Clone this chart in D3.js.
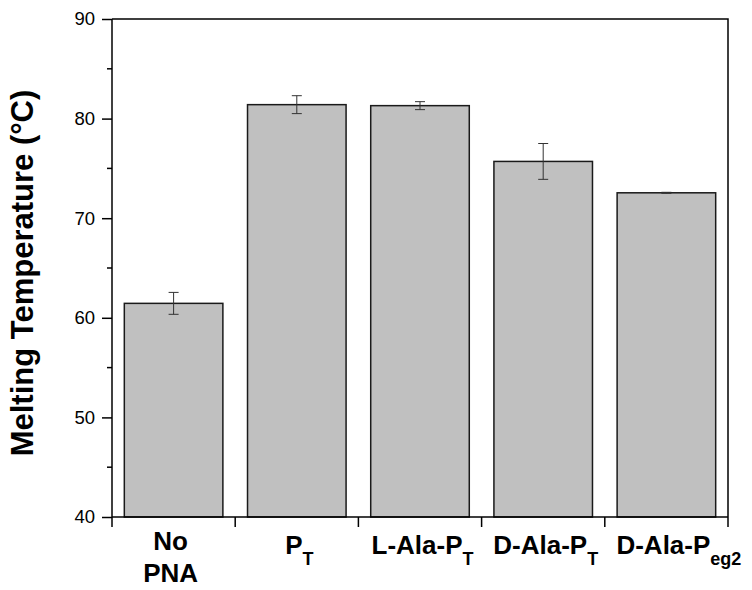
<!DOCTYPE html>
<html>
<head>
<script src="https://d3js.org/d3.v7.min.js"></script>
<style>
  body { margin: 0; background: #fff; }
  text { font-family: "Liberation Sans", Arial, sans-serif; }
</style>
</head>
<body>
<svg id="chart" width="752" height="590"></svg>
<script>
// labels: [main, subscript]
var categories = [["No PNA", ""], ["P", "T"], ["L-Ala-P", "T"], ["D-Ala-P", "T"], ["D-Ala-P", "eg2"]];
var meltTemp = [61.45, 81.4, 81.3, 75.7, 72.55];
var errors = [1.1, 0.9, 0.4, 1.8, 0.05];
var yTicks = [40, 50, 60, 70, 80, 90];

var svg = d3.select('#chart');
var mLeft = 112, mRight = 728, mTop = 19, mBottom = 517;

var x = d3.scaleBand().domain(d3.range(categories.length)).range([mLeft, mRight]).paddingInner(0.2).paddingOuter(0.1);
var y = d3.scaleLinear().domain([40, 90]).range([mBottom, mTop]);

// bars
svg.selectAll('rect.bar').data(meltTemp).enter().append('rect')
    .attr('class', 'bar')
    .attr('x', function(d, i) { return x(i); })
    .attr('width', x.bandwidth())
    .attr('y', function(d) { return y(d); })
    .attr('height', function(d) { return mBottom - y(d); })
    .attr('fill', '#c0c0c0')
    .attr('stroke', '#1a1a1a')
    .attr('stroke-width', 1.5);

// error bars
var eb = svg.selectAll('g.err').data(meltTemp).enter().append('g').attr('class', 'err')
    .attr('stroke', '#333').attr('stroke-width', 1);
eb.append('line')
    .attr('x1', function(d, i) { return x(i) + x.bandwidth() / 2; })
    .attr('x2', function(d, i) { return x(i) + x.bandwidth() / 2; })
    .attr('y1', function(d, i) { return y(d + errors[i]); })
    .attr('y2', function(d, i) { return y(d - errors[i]); });
[1, -1].forEach(function(s) {
    eb.append('line')
        .attr('x1', function(d, i) { return x(i) + x.bandwidth() / 2 - 5; })
        .attr('x2', function(d, i) { return x(i) + x.bandwidth() / 2 + 5; })
        .attr('y1', function(d, i) { return y(d + s * errors[i]); })
        .attr('y2', function(d, i) { return y(d + s * errors[i]); });
});

// y axis with minor ticks
var yAxis = d3.axisLeft(y).tickValues(yTicks).tickSize(10).tickPadding(7).tickFormat(d3.format('d'));
var gy = svg.append('g').attr('transform', 'translate(' + mLeft + ',0)').call(yAxis);
gy.selectAll('.tick line').attr('stroke-width', 1.5);
gy.selectAll('text').style('font-size', '18.5px').attr('fill', '#000');
gy.select('.domain').attr('stroke-width', 1.5).attr('d', 'M0,' + mBottom + 'V' + mTop);
var minor = d3.range(45, 90, 10);
gy.selectAll('line.minor').data(minor).enter().append('line')
    .attr('class', 'minor')
    .attr('x1', -5).attr('x2', 0)
    .attr('y1', function(d) { return y(d); }).attr('y2', function(d) { return y(d); })
    .attr('stroke', '#000').attr('stroke-width', 1.5);

// x axis: ticks at band boundaries
var bounds = d3.range(categories.length + 1).map(function(i) { return mLeft + i * (mRight - mLeft) / categories.length; });
var gx = svg.append('g');
gx.append('line').attr('x1', mLeft).attr('x2', mRight).attr('y1', mBottom).attr('y2', mBottom)
    .attr('stroke', '#000').attr('stroke-width', 1.5);
gx.selectAll('line.tk').data(bounds).enter().append('line')
    .attr('class', 'tk')
    .attr('x1', function(d) { return d; }).attr('x2', function(d) { return d; })
    .attr('y1', mBottom).attr('y2', mBottom + 10)
    .attr('stroke', '#000').attr('stroke-width', 1.5);

// top and right frame
svg.append('path').attr('d', 'M' + mLeft + ',' + mTop + 'H' + mRight + 'V' + mBottom)
    .attr('fill', 'none').attr('stroke', '#000').attr('stroke-width', 1.5);

// category labels (main part centred on the bar, subscript hanging after it)
categories.forEach(function(c, i) {
    var cx = x(i) + x.bandwidth() / 2 - 3;
    if (c[1] === '') {
        var parts = c[0].split(' ');
        svg.append('text').attr('x', cx).attr('y', 550).attr('text-anchor', 'middle')
            .style('font-size', '26px').style('font-weight', 'bold').text(parts[0]);
        svg.append('text').attr('x', cx).attr('y', 582).attr('text-anchor', 'middle')
            .style('font-size', '26px').style('font-weight', 'bold').text(parts[1]);
    } else {
        var t = svg.append('text').attr('y', 554)
            .style('font-size', '26px').style('font-weight', 'bold');
        var main = t.append('tspan').text(c[0]);
        t.append('tspan').attr('dy', 11).style('font-size', '18px').text(c[1]);
        var w = main.node().getComputedTextLength();
        t.attr('x', cx - w / 2);
    }
});

// y title
svg.append('text')
    .attr('transform', 'translate(33,273) rotate(-90)')
    .attr('text-anchor', 'middle')
    .style('font-size', '31px').style('font-weight', 'bold')
    .text('Melting Temperature (°C)');
</script>
</body>
</html>
